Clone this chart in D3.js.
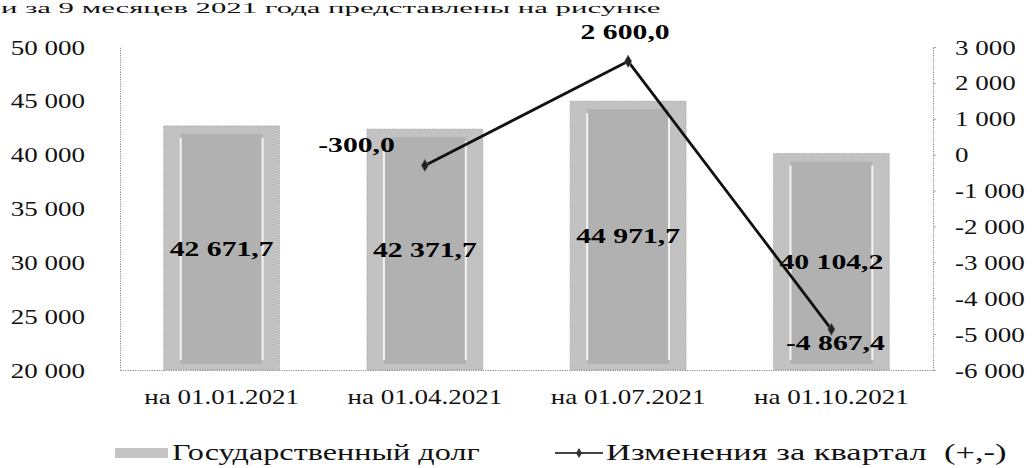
<!DOCTYPE html>
<html><head><meta charset="utf-8">
<script src="https://cdn.jsdelivr.net/npm/d3@7"></script>
<style>
html,body{margin:0;padding:0;background:#fff;overflow:hidden}
svg{display:block;font-family:"Liberation Serif","Times New Roman",serif}
text{white-space:pre}
</style></head>
<body>
<svg id="chart" width="1033" height="468"></svg>
<script>
// ---- data ----
const categories = ["на 01.01.2021", "на 01.04.2021", "на 01.07.2021", "на 01.10.2021"];
const debtValues = [42671.7, 42371.7, 44971.7, 40104.2];
const changeValues = [null, -300.0, 2600.0, -4867.4];
const leftTicks = [20000, 25000, 30000, 35000, 40000, 45000, 50000];
const rightTicks = [-6000, -5000, -4000, -3000, -2000, -1000, 0, 1000, 2000, 3000];
const seriesNames = ["Государственный долг", "Изменения за квартал  (+,-)"];
const headerText = "и за 9 месяцев 2021 года представлены на рисунке";

// ---- setup ----
const SX = 1.35; // horizontal stretch of the scanned text
const ru = d3.formatLocale({decimal: ",", thousands: "\u00a0", grouping: [3], currency: ["", ""], minus: "-"});
const fmtTick = ru.format(",.0f");
const fmtVal = ru.format(",.1f");

const svg = d3.select("#chart");
const plot = {left: 120, right: 933, top: 47, bottom: 370};

const x = d3.scaleBand().domain(categories).range([plot.left, plot.right]).paddingInner(0.43).paddingOuter(0.215);
const yL = d3.scaleLinear().domain([20000, 50000]).range([plot.bottom, plot.top]);
const yR = d3.scaleLinear().domain([-6000, 3000]).range([plot.bottom, plot.top]);

function stretch(sel, tx, ty, sx) {
  sel.attr("x", 0).attr("y", 0).attr("transform", `translate(${tx},${ty}) scale(${sx || SX},1)`);
}

// header fragment (line of document text above the chart)
svg.append("text").text(headerText)
  .attr("font-size", 15).attr("fill", "#111")
  .call(stretch, 1, 12.5, 2.05);

// ---- axes ----
const axL = svg.append("g").attr("transform", `translate(${plot.left},0)`)
  .call(d3.axisLeft(yL).tickValues(leftTicks).tickSize(0).tickFormat(fmtTick));
axL.select(".domain").attr("stroke", "#8a8a8a").attr("stroke-dasharray", "1.2,1.2");
axL.selectAll(".tick text").attr("font-size", 20).attr("fill", "#111").attr("text-anchor", "end")
  .attr("dy", "0.35em").attr("font-family", "Liberation Serif")
  .attr("x", 0).attr("transform", `translate(-35,0) scale(${SX},1)`);

const axR = svg.append("g").attr("transform", `translate(${plot.right},0)`)
  .call(d3.axisRight(yR).tickValues(rightTicks).tickSize(3).tickFormat(fmtTick));
axR.select(".domain").attr("stroke", "#8a8a8a").attr("stroke-dasharray", "1.2,1.2");
axR.selectAll(".tick line").attr("stroke", "#aaa");
axR.selectAll(".tick text").attr("font-size", 20).attr("fill", "#111").attr("text-anchor", "start")
  .attr("dy", "0.35em").attr("font-family", "Liberation Serif")
  .attr("x", 0).attr("transform", `translate(22,0) scale(${SX},1)`);

const axB = svg.append("g").attr("transform", `translate(0,${plot.bottom})`)
  .call(d3.axisBottom(x).tickSize(0).tickSizeOuter(0));
axB.select(".domain").attr("stroke", "#8a8a8a").attr("stroke-dasharray", "1.2,1.2");
axB.selectAll(".tick text").attr("font-size", 20).attr("fill", "#111").attr("text-anchor", "middle")
  .attr("dy", "0.35em").attr("font-family", "Liberation Serif")
  .attr("y", 0).attr("transform", `translate(0,27) scale(${SX},1)`);

// ---- bars ----
const bw = x.bandwidth();
const bars = svg.append("g").selectAll("g").data(debtValues).join("g");
bars.append("rect")
  .attr("x", (d, i) => x(categories[i])).attr("y", d => yL(d))
  .attr("width", bw).attr("height", d => yL(20000) - yL(d))
  .attr("fill", "#c2c2c2").attr("stroke", "#a2a2a2").attr("stroke-width", 0.8)
  .attr("stroke-dasharray", "1.5,1");
bars.append("rect")
  .attr("x", (d, i) => x(categories[i]) + 17).attr("y", d => yL(d) + 8)
  .attr("width", bw - 34).attr("height", d => yL(20000) - yL(d) - 14)
  .attr("fill", "#b1b1b1");
bars.append("line")
  .attr("x1", (d, i) => x(categories[i]) + 17).attr("x2", (d, i) => x(categories[i]) + 17)
  .attr("y1", d => yL(d) + 12).attr("y2", yL(20000) - 10)
  .attr("stroke", "#f4f4f4").attr("stroke-width", 2);
bars.append("line")
  .attr("x1", (d, i) => x(categories[i]) + bw - 17).attr("x2", (d, i) => x(categories[i]) + bw - 17)
  .attr("y1", d => yL(d) + 12).attr("y2", yL(20000) - 10)
  .attr("stroke", "#f4f4f4").attr("stroke-width", 2);

// bar value labels
svg.append("g").selectAll("text").data(debtValues).join("text")
  .text(d => fmtVal(d))
  .attr("font-size", 22).attr("font-weight", "bold").attr("fill", "#000")
  .attr("text-anchor", "middle").attr("dy", "0.35em")
  .each(function(d, i) {
    d3.select(this).call(stretch, x(categories[i]) + bw / 2, (yL(d) + yL(20000)) / 2);
  });

// ---- line ----
const cx = i => x(categories[i]) + bw / 2;
const pts = changeValues.map((v, i) => ({v, i})).filter(p => p.v != null);
svg.append("path").datum(pts)
  .attr("d", d3.line().x(p => cx(p.i)).y(p => yR(p.v)))
  .attr("fill", "none").attr("stroke", "#111").attr("stroke-width", 2.8);
svg.append("g").selectAll("path").data(pts).join("path")
  .attr("d", d3.symbol(d3.symbolDiamond, 45))
  .attr("transform", p => `translate(${cx(p.i)},${yR(p.v)})`)
  .attr("fill", "#222").attr("stroke", "#777").attr("stroke-width", 0.6);

// line labels (Excel placements: left, above, below)
function labelPos(p) {
  if (p.v < -1000) return {anchor: "middle", dx: 4, dy: 13};
  if (p.v < 0) return {anchor: "end", dx: -30, dy: -21};
  return {anchor: "middle", dx: -3, dy: -30};
}
svg.append("g").selectAll("text").data(pts).join("text")
  .text(p => fmtVal(p.v))
  .attr("font-size", 22).attr("font-weight", "bold").attr("fill", "#000")
  .attr("dy", "0.35em")
  .each(function(p) {
    const lp = labelPos(p);
    d3.select(this).attr("text-anchor", lp.anchor).call(stretch, cx(p.i) + lp.dx, yR(p.v) + lp.dy);
  });

// ---- legend ----
const lg = svg.append("g");
lg.append("rect").attr("x", 115).attr("y", 448).attr("width", 53).attr("height", 10)
  .attr("fill", "#c4c4c4");
lg.append("text").text(seriesNames[0]).attr("font-size", 23).attr("fill", "#111")
  .attr("dy", "0.35em").call(stretch, 172, 452, 1.4);
lg.append("line").attr("x1", 555).attr("x2", 603).attr("y1", 453).attr("y2", 453)
  .attr("stroke", "#444").attr("stroke-width", 2);
lg.append("path").attr("d", d3.symbol(d3.symbolDiamond, 30)).attr("transform", "translate(579,453)")
  .attr("fill", "#333");
lg.append("text").text(seriesNames[1]).attr("font-size", 23).attr("fill", "#111")
  .attr("dy", "0.35em").call(stretch, 606, 452, 1.5);
</script>
</body></html>
